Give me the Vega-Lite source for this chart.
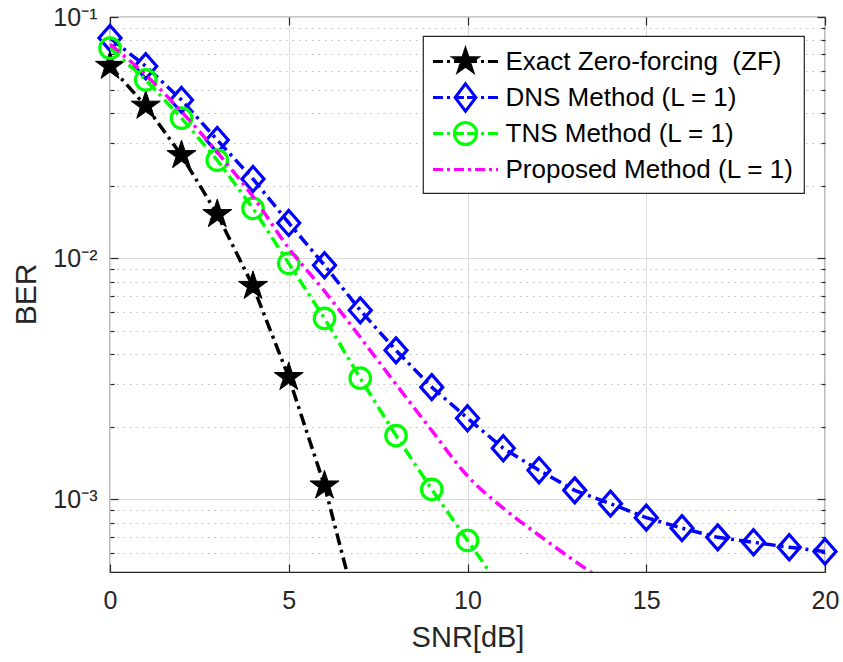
{
  "$schema": "https://vega.github.io/schema/vega-lite/v6.json",
  "width": 715,
  "height": 555,
  "autosize": {"type": "none"},
  "padding": {"left": 110, "top": 17, "right": 18, "bottom": 90},
  "background": "white",
  "config": {
    "view": {"stroke": "#262626", "strokeWidth": 1.2},
    "font": "Liberation Sans",
    "axis": {
      "labelFont": "Liberation Sans",
      "labelFontSize": 25,
      "labelColor": "#262626",
      "titleFont": "Liberation Sans",
      "titleFontSize": 29,
      "titleFontWeight": "normal",
      "titleColor": "#262626",
      "domainColor": "#262626",
      "tickColor": "#262626",
      "tickWidth": 1.2,
      "gridColor": "#dcdcdc",
      "gridWidth": 1,
      "labelFlush": false,
      "labelOverlap": false
    },
    "legend": {
      "padding": 10,
      "strokeColor": "#262626",
      "strokeWidth": 1.2,
      "fillColor": "white",
      "labelFont": "Liberation Sans",
      "labelFontSize": 26,
      "labelColor": "#000000",
      "labelLimit": 600,
      "symbolSize": 784,
      "symbolStrokeWidth": 3,
      "symbolOffset": 17
    }
  },
  "data": {
    "values": [
      {"snr": 0, "ber": 0.0626, "method": "Exact Zero-forcing \u00a0(ZF)"},
      {"snr": 1, "ber": 0.0428, "method": "Exact Zero-forcing \u00a0(ZF)"},
      {"snr": 2, "ber": 0.0267, "method": "Exact Zero-forcing \u00a0(ZF)"},
      {"snr": 3, "ber": 0.0152, "method": "Exact Zero-forcing \u00a0(ZF)"},
      {"snr": 4, "ber": 0.00766, "method": "Exact Zero-forcing \u00a0(ZF)"},
      {"snr": 5, "ber": 0.00321, "method": "Exact Zero-forcing \u00a0(ZF)"},
      {"snr": 6, "ber": 0.00114, "method": "Exact Zero-forcing \u00a0(ZF)"},
      {"snr": 7, "ber": 0.000305, "method": "Exact Zero-forcing \u00a0(ZF)"},
      {"snr": 0, "ber": 0.0818, "method": "DNS Method (L = 1)"},
      {"snr": 1, "ber": 0.0625, "method": "DNS Method (L = 1)"},
      {"snr": 2, "ber": 0.0453, "method": "DNS Method (L = 1)"},
      {"snr": 3, "ber": 0.0309, "method": "DNS Method (L = 1)"},
      {"snr": 4, "ber": 0.0213, "method": "DNS Method (L = 1)"},
      {"snr": 5, "ber": 0.014, "method": "DNS Method (L = 1)"},
      {"snr": 6, "ber": 0.00935, "method": "DNS Method (L = 1)"},
      {"snr": 7, "ber": 0.00608, "method": "DNS Method (L = 1)"},
      {"snr": 8, "ber": 0.00415, "method": "DNS Method (L = 1)"},
      {"snr": 9, "ber": 0.00292, "method": "DNS Method (L = 1)"},
      {"snr": 10, "ber": 0.00217, "method": "DNS Method (L = 1)"},
      {"snr": 11, "ber": 0.00163, "method": "DNS Method (L = 1)"},
      {"snr": 12, "ber": 0.00132, "method": "DNS Method (L = 1)"},
      {"snr": 13, "ber": 0.00109, "method": "DNS Method (L = 1)"},
      {"snr": 14, "ber": 0.00096, "method": "DNS Method (L = 1)"},
      {"snr": 15, "ber": 0.00084, "method": "DNS Method (L = 1)"},
      {"snr": 16, "ber": 0.00076, "method": "DNS Method (L = 1)"},
      {"snr": 17, "ber": 0.000696, "method": "DNS Method (L = 1)"},
      {"snr": 18, "ber": 0.000664, "method": "DNS Method (L = 1)"},
      {"snr": 19, "ber": 0.000633, "method": "DNS Method (L = 1)"},
      {"snr": 20, "ber": 0.000608, "method": "DNS Method (L = 1)"},
      {"snr": 0, "ber": 0.0743, "method": "TNS Method (L = 1)"},
      {"snr": 1, "ber": 0.0549, "method": "TNS Method (L = 1)"},
      {"snr": 2, "ber": 0.0381, "method": "TNS Method (L = 1)"},
      {"snr": 3, "ber": 0.0255, "method": "TNS Method (L = 1)"},
      {"snr": 4, "ber": 0.0161, "method": "TNS Method (L = 1)"},
      {"snr": 5, "ber": 0.00952, "method": "TNS Method (L = 1)"},
      {"snr": 6, "ber": 0.00563, "method": "TNS Method (L = 1)"},
      {"snr": 7, "ber": 0.00318, "method": "TNS Method (L = 1)"},
      {"snr": 8, "ber": 0.00184, "method": "TNS Method (L = 1)"},
      {"snr": 9, "ber": 0.0011, "method": "TNS Method (L = 1)"},
      {"snr": 10, "ber": 0.000676, "method": "TNS Method (L = 1)"},
      {"snr": 11, "ber": 0.000416, "method": "TNS Method (L = 1)"},
      {"snr": 0, "ber": 0.077, "method": "Proposed Method (L = 1)"},
      {"snr": 1, "ber": 0.0575, "method": "Proposed Method (L = 1)"},
      {"snr": 2, "ber": 0.0405, "method": "Proposed Method (L = 1)"},
      {"snr": 3, "ber": 0.0275, "method": "Proposed Method (L = 1)"},
      {"snr": 4, "ber": 0.018, "method": "Proposed Method (L = 1)"},
      {"snr": 5, "ber": 0.011, "method": "Proposed Method (L = 1)"},
      {"snr": 6, "ber": 0.0073, "method": "Proposed Method (L = 1)"},
      {"snr": 7, "ber": 0.0047, "method": "Proposed Method (L = 1)"},
      {"snr": 8, "ber": 0.003, "method": "Proposed Method (L = 1)"},
      {"snr": 9, "ber": 0.00193, "method": "Proposed Method (L = 1)"},
      {"snr": 10, "ber": 0.00125, "method": "Proposed Method (L = 1)"},
      {"snr": 11, "ber": 0.00092, "method": "Proposed Method (L = 1)"},
      {"snr": 12, "ber": 0.00071, "method": "Proposed Method (L = 1)"},
      {"snr": 13, "ber": 0.000555, "method": "Proposed Method (L = 1)"},
      {"snr": 14, "ber": 0.00044, "method": "Proposed Method (L = 1)"}
    ]
  },
  "layer": [
    {
      "transform": [{"filter": "datum.method == 'Exact Zero-forcing \u00a0(ZF)'"}],
      "mark": {"type": "line", "clip": true, "color": "#000000", "strokeWidth": 3.5, "strokeDash": [12, 5, 3, 5]},
      "encoding": {
        "x": {"field": "snr", "type": "quantitative", "scale": {"domain": [0, 20], "nice": false, "zero": false},
          "axis": {"orient": "bottom", "values": [0, 5, 10, 15, 20], "title": "SNR[dB]", "grid": true, "tickSize": -8, "labelPadding": 24, "domain": false, "titleY": 51, "titleBaseline": "top"}},
        "y": {"field": "ber", "type": "quantitative", "scale": {"type": "log", "domain": [0.0005, 0.1], "nice": false},
          "axis": {"orient": "left", "values": [0.001, 0.01, 0.1], "title": "BER", "grid": true, "tickSize": -8, "labelPadding": 21, "domain": false,
            "labelExpr": "datum.value > 0.05 ? '10⁻¹' : datum.value > 0.005 ? '10⁻²' : '10⁻³'",
            "titleX": -75, "titleY": 277, "titleAngle": -90, "titleAlign": "center", "titleBaseline": "alphabetic", "titleFontSize": 30}}
      }
    },
    {
      "transform": [{"filter": "datum.method == 'Exact Zero-forcing \u00a0(ZF)' && datum.ber >= 0.0005"}],
      "mark": {"type": "point", "shape": "M0,-1L0.225,-0.309L0.951,-0.309L0.363,0.118L0.588,0.809L0,0.382L-0.588,0.809L-0.363,0.118L-0.951,-0.309L-0.225,-0.309Z", "size": 930, "filled": true, "fill": "#000000", "stroke": "#000000", "strokeWidth": 1, "opacity": 1},
      "encoding": {
        "x": {"field": "snr", "type": "quantitative", "scale": {"domain": [0, 20], "nice": false, "zero": false},
          "axis": {"orient": "top", "values": [0, 5, 10, 15, 20], "labels": false, "grid": false, "tickSize": -8, "domain": false, "title": null}},
        "y": {"field": "ber", "type": "quantitative", "scale": {"type": "log", "domain": [0.0005, 0.1], "nice": false},
          "axis": {"orient": "left", "values": [0.0006, 0.0007, 0.0008, 0.0009, 0.002, 0.003, 0.004, 0.005, 0.006, 0.007, 0.008, 0.009, 0.02, 0.03, 0.04, 0.05, 0.06, 0.07, 0.08, 0.09],
            "labels": false, "grid": true, "gridDash": [1.5, 5], "gridColor": "#bdbdbd", "tickSize": -4, "domain": false, "title": null}}
      }
    },
    {
      "transform": [{"filter": "datum.method == 'DNS Method (L = 1)'"}],
      "mark": {"type": "line", "clip": true, "color": "#0000ff", "strokeWidth": 3.5, "strokeDash": [12, 5, 3, 5]},
      "encoding": {
        "x": {"field": "snr", "type": "quantitative", "scale": {"domain": [0, 20], "nice": false, "zero": false}, "axis": null},
        "y": {"field": "ber", "type": "quantitative", "scale": {"type": "log", "domain": [0.0005, 0.1], "nice": false},
          "axis": {"orient": "right", "values": [0.001, 0.01, 0.1], "labels": false, "grid": false, "tickSize": -8, "domain": false, "title": null}}
      }
    },
    {
      "transform": [{"filter": "datum.method == 'DNS Method (L = 1)' && datum.ber >= 0.0005"}],
      "mark": {"type": "point", "shape": "M0,-1L0.88,0L0,1L-0.88,0Z", "size": 625, "filled": false, "stroke": "#0000ff", "strokeWidth": 3.2, "opacity": 1},
      "encoding": {
        "x": {"field": "snr", "type": "quantitative", "scale": {"domain": [0, 20], "nice": false, "zero": false}, "axis": null},
        "y": {"field": "ber", "type": "quantitative", "scale": {"type": "log", "domain": [0.0005, 0.1], "nice": false},
          "axis": {"orient": "right", "values": [0.0006, 0.0007, 0.0008, 0.0009, 0.002, 0.003, 0.004, 0.005, 0.006, 0.007, 0.008, 0.009, 0.02, 0.03, 0.04, 0.05, 0.06, 0.07, 0.08, 0.09],
            "labels": false, "grid": false, "tickSize": -4, "domain": false, "title": null}}
      }
    },
    {
      "transform": [{"filter": "datum.method == 'TNS Method (L = 1)'"}],
      "mark": {"type": "line", "clip": true, "color": "#00ff00", "strokeWidth": 3.5, "strokeDash": [12, 5, 3, 5]},
      "encoding": {
        "x": {"field": "snr", "type": "quantitative", "scale": {"domain": [0, 20], "nice": false, "zero": false}, "axis": null},
        "y": {"field": "ber", "type": "quantitative", "scale": {"type": "log", "domain": [0.0005, 0.1], "nice": false}, "axis": null}
      }
    },
    {
      "transform": [{"filter": "datum.method == 'TNS Method (L = 1)' && datum.ber >= 0.0005"}],
      "mark": {"type": "point", "shape": "circle", "size": 420, "filled": false, "stroke": "#00ff00", "strokeWidth": 3.2, "opacity": 1},
      "encoding": {
        "x": {"field": "snr", "type": "quantitative", "scale": {"domain": [0, 20], "nice": false, "zero": false}, "axis": null},
        "y": {"field": "ber", "type": "quantitative", "scale": {"type": "log", "domain": [0.0005, 0.1], "nice": false}, "axis": null}
      }
    },
    {
      "transform": [{"filter": "datum.method == 'Proposed Method (L = 1)'"}],
      "mark": {"type": "line", "clip": true, "color": "#ff00ff", "strokeWidth": 3.5, "strokeDash": [12, 5, 3, 5], "interpolate": "monotone"},
      "encoding": {
        "x": {"field": "snr", "type": "quantitative", "scale": {"domain": [0, 20], "nice": false, "zero": false}, "axis": null},
        "y": {"field": "ber", "type": "quantitative", "scale": {"type": "log", "domain": [0.0005, 0.1], "nice": false}, "axis": null}
      }
    },
    {
      "transform": [{"filter": "datum.ber > 1"}],
      "mark": {"type": "point", "opacity": 1, "strokeWidth": 3},
      "encoding": {
        "x": {"field": "snr", "type": "quantitative", "scale": {"domain": [0, 20], "nice": false, "zero": false}, "axis": null},
        "y": {"field": "ber", "type": "quantitative", "scale": {"type": "log", "domain": [0.0005, 0.1], "nice": false}, "axis": null},
        "stroke": {"field": "method", "type": "nominal",
          "scale": {"domain": ["Exact Zero-forcing \u00a0(ZF)", "DNS Method (L = 1)", "TNS Method (L = 1)", "Proposed Method (L = 1)"], "range": ["#000000", "#0000ff", "#00ff00", "#ff00ff"]},
          "legend": {"title": null, "orient": "none", "legendX": 313, "legendY": 19, "rowPadding": -9.5, "labelOffset": 24.5, "gridAlign": "all", "labelExpr": "datum.label + '\u00a0\u00a0\u00a0\u00a0\u00a0\u00a0\u00a0'"}},
        "fill": {"field": "method", "type": "nominal",
          "scale": {"domain": ["Exact Zero-forcing \u00a0(ZF)", "DNS Method (L = 1)", "TNS Method (L = 1)", "Proposed Method (L = 1)"], "range": ["#000000", "transparent", "transparent", "transparent"]},
          "legend": {"title": null, "orient": "none", "legendX": 313, "legendY": 19, "rowPadding": -9.5, "labelOffset": 24.5, "gridAlign": "all", "labelExpr": "datum.label + '\u00a0\u00a0\u00a0\u00a0\u00a0\u00a0\u00a0'"}},
        "shape": {"field": "method", "type": "nominal",
          "scale": {"domain": ["Exact Zero-forcing \u00a0(ZF)", "DNS Method (L = 1)", "TNS Method (L = 1)", "Proposed Method (L = 1)"],
            "range": [
              "M-2.32,0H-1.61M-1.32,0H-1.11M-0.82,0H-0.11M0.11,0H0.82M1.11,0H1.32M1.61,0H2.32M0,-0.85L0.191,-0.263L0.808,-0.263L0.309,0.1L0.5,0.688L0,0.325L-0.5,0.688L-0.309,0.1L-0.808,-0.263L-0.191,-0.263Z",
              "M-2.32,0H-1.61M-1.32,0H-1.11M-0.82,0H-0.11M0.11,0H0.82M1.11,0H1.32M1.61,0H2.32M0,-0.98L0.74,0L0,0.98L-0.74,0Z",
              "M-2.32,0H-1.61M-1.32,0H-1.11M-0.82,0H-0.11M0.11,0H0.82M1.11,0H1.32M1.61,0H2.32M0.79,0A0.79,0.79 0 1,1 -0.79,0A0.79,0.79 0 1,1 0.79,0Z",
              "M-2.32,0H-1.61M-1.32,0H-1.11M-0.82,0H-0.11M0.18,0H0.39M0.68,0H1.39M1.68,0H1.89M2.18,0H2.32"
            ]},
          "legend": {"title": null, "orient": "none", "legendX": 313, "legendY": 19, "rowPadding": -9.5, "labelOffset": 24.5, "gridAlign": "all", "labelExpr": "datum.label + '\u00a0\u00a0\u00a0\u00a0\u00a0\u00a0\u00a0'"}}
      }
    }
  ],
  "resolve": {"axis": {"x": "independent", "y": "independent"}}
}
